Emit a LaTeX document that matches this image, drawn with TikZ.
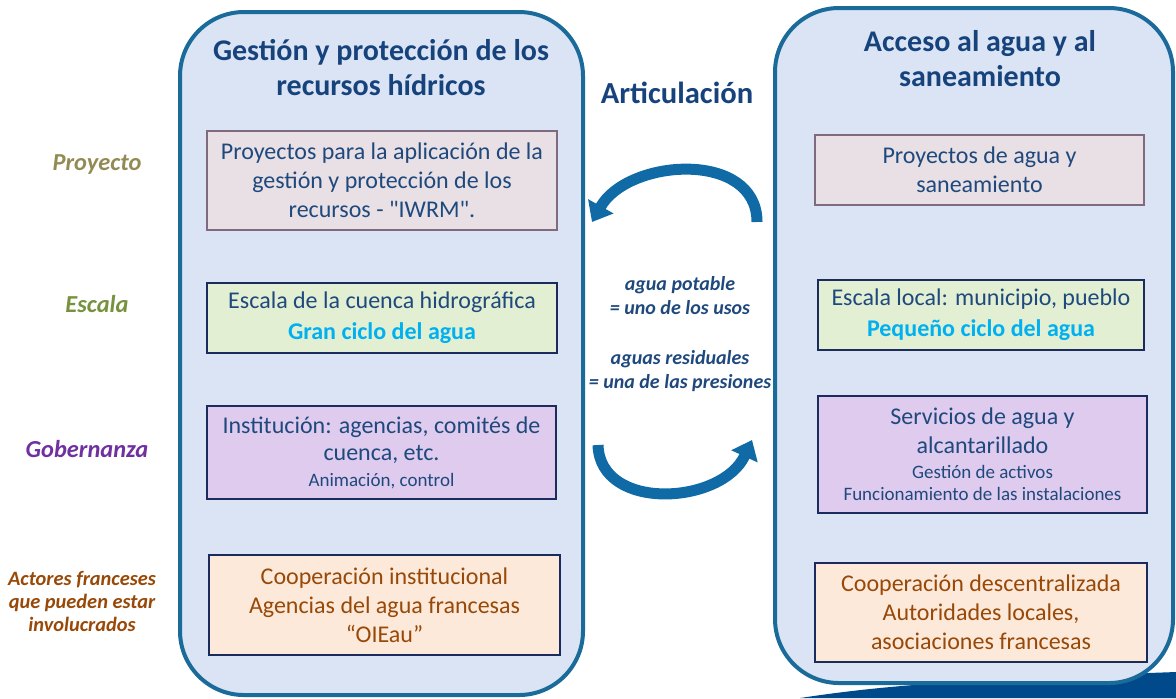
\documentclass[tikz,border=0pt]{standalone}
\usepackage{fontspec}
\setmainfont{Carlito}
\newfontfamily\plainq{Carlito}
\usetikzlibrary{arrows.meta}
\definecolor{panelfill}{HTML}{DAE4F4}
\definecolor{panelline}{HTML}{1A6A9A}
\definecolor{titleblue}{HTML}{17437D}
\definecolor{textblue}{HTML}{1F497D}
\definecolor{cyanbold}{HTML}{00B0F0}
\definecolor{projfill}{HTML}{E8E0E4}
\definecolor{projline}{HTML}{7F6A80}
\definecolor{scalefill}{HTML}{E2EFD2}
\definecolor{govfill}{HTML}{DFCBEE}
\definecolor{actfill}{HTML}{FDE9DA}
\definecolor{boxline}{HTML}{1C2B5E}
\definecolor{actbrown}{HTML}{984807}
\definecolor{projlabel}{HTML}{948A54}
\definecolor{scalelabel}{HTML}{76923C}
\definecolor{govlabel}{HTML}{7030A0}
\definecolor{arrowblue}{HTML}{0F6AA6}
\definecolor{bandblue}{HTML}{004A8C}
\begin{document}
\begin{tikzpicture}[x=0.5pt,y=-0.5pt,
  panel/.style={draw=panelline,fill=panelfill,line width=2pt,rounded corners=32pt},
  inbox/.style={draw=boxline,line width=1pt,align=center,inner sep=0pt,text=textblue,
    font=\fontsize{12}{14.5}\selectfont},
  title/.style={text=titleblue,align=center,font=\fontsize{15}{17.5}\selectfont\bfseries},
  rowlabel/.style={align=center,font=\fontsize{12.2}{12}\selectfont\bfseries\itshape},
  swoosh/.style={draw=arrowblue,line width=5.5pt,-{Triangle[width=14pt,length=9pt]}}]
  \useasboundingbox (0,0) rectangle (1176,698);
  \fill[bandblue] (800,698) .. controls (880,686) and (950,680) .. (1176,672) -- (1176,698) -- cycle;
  \node[panel,minimum width=201.5pt,minimum height=341.5pt] (gestion) at (381.5,353.5) {};
  \node[panel,minimum width=199pt,minimum height=337.5pt] (acceso) at (974,345.5) {};
  \node[title] (gtitle) at (381,67.5) {Gestión y protección de los\\recursos hídricos};
  \node[title] (atitle) at (980,59) {Acceso al agua y al\\saneamiento};
  \node[title,font=\fontsize{15.3}{17.5}\selectfont\bfseries] (artic) at (677,93) {Articulación};
  \node[rowlabel,text=projlabel] (proyecto) at (97,164) {Proyecto};
  \node[rowlabel,text=scalelabel] (escala) at (97,304) {Escala};
  \node[rowlabel,text=govlabel] (gobernanza) at (87,449) {Gobernanza};
  \node[rowlabel,text=actbrown,font=\fontsize{10.2}{11.5}\selectfont\bfseries\itshape] (actores) at (82,601)
    {Actores franceses\\que pueden estar\\involucrados};
  \node[inbox,draw=projline,fill=projfill,minimum width=175pt,minimum height=49.5pt] (lproy) at (382,180.5)
    {Proyectos para la aplicación de la\\gestión y protección de los\\recursos - {\plainq"}IWRM{\plainq"}.};
  \node[inbox,fill=scalefill,minimum width=175pt,minimum height=35pt] (lesc) at (382,318)
    {Escala de la cuenca hidrográfica\\[1pt]{\bfseries\color{cyanbold}Gran ciclo del agua}};
  \node[inbox,fill=govfill,minimum width=174.5pt,minimum height=46.5pt] (lgob) at (381.5,452.5)
    {Institución: agencias, comités de\\[-1pt]cuenca, etc.\\[-1.5pt]{\fontsize{9.5}{11}\selectfont Animación, control}};
  \node[inbox,fill=actfill,text=actbrown,minimum width=175.5pt,minimum height=50pt] (lact) at (384.5,605)
    {Cooperación institucional\\Agencias del agua francesas\\“OIEau”};
  \node[inbox,draw=projline,fill=projfill,minimum width=164.5pt,minimum height=35pt] (rproy) at (979.5,170)
    {Proyectos de agua y\\saneamiento};
  \node[inbox,fill=scalefill,minimum width=163pt,minimum height=35pt] (resc) at (981,315)
    {Escala local: municipio, pueblo\\[1pt]{\bfseries\color{cyanbold}Pequeño ciclo del agua}};
  \node[inbox,fill=govfill,minimum width=164.5pt,minimum height=58.5pt] (rgob) at (982.5,454.5)
    {Servicios de agua y\\alcantarillado\\[-2pt]{\fontsize{9.5}{11}\selectfont Gestión de activos}\\[-3.5pt]{\fontsize{9.5}{11}\selectfont Funcionamiento de las instalaciones}};
  \node[inbox,fill=actfill,text=actbrown,minimum width=166pt,minimum height=49.5pt] (ract) at (981,612.5)
    {Cooperación descentralizada\\Autoridades locales,\\asociaciones francesas};
  \node[text=textblue,align=center,font=\fontsize{10}{12}\selectfont\bfseries\itshape] (usos) at (680,334)
    {agua potable\\= uno de los usos\\[13pt]aguas residuales\\= una de las presiones};
  \coordinate (toptail) at (757,222);
  \coordinate (tophead) at (592,222);
  \coordinate (bottail) at (598,445);
  \coordinate (bothead) at (752,440);
  \draw[swoosh] (toptail) .. controls (757,150) and (628,158) .. (tophead);
  \draw[swoosh] (bottail) .. controls (600,512) and (722,505) .. (bothead);
\end{tikzpicture}
\end{document}
